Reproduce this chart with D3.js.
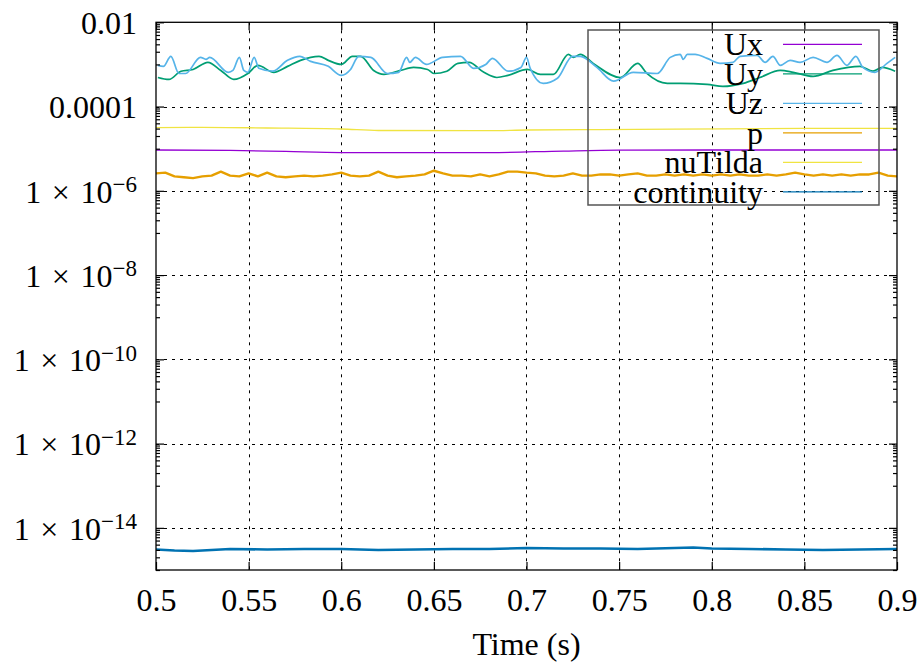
<!DOCTYPE html>
<html>
<head>
<meta charset="utf-8">
<script src="https://cdn.jsdelivr.net/npm/d3@7"></script>
<style>
  body { margin: 0; background: #fff; }
  text { font-family: "Liberation Serif", "Times New Roman", serif; }
</style>
</head>
<body>
<svg id="chart" width="920" height="663"></svg>
<script>
// residuals (time in s)
var uxTime = [0.5, 0.54, 0.57, 0.6, 0.65, 0.68, 0.72, 0.75, 0.8, 0.85, 0.9];
var uxVal  = [9.3e-6, 9.1e-6, 8.6e-6, 8.1e-6, 8.1e-6, 8.1e-6, 8.8e-6, 9.2e-6, 9.3e-6, 9.3e-6, 9.3e-6];

var uyTime = [0.501, 0.507, 0.5135, 0.520, 0.528, 0.535, 0.542, 0.5496, 0.555, 0.5636, 0.571, 0.578, 0.588, 0.593,
  0.600, 0.606, 0.6105, 0.6175, 0.623, 0.632, 0.639, 0.6466, 0.650, 0.657, 0.663, 0.669, 0.677, 0.684, 0.690,
  0.7005, 0.7075, 0.7145, 0.7226, 0.7253, 0.729, 0.736, 0.7506, 0.760, 0.765, 0.776, 0.783, 0.7975, 0.806,
  0.817, 0.826, 0.837, 0.844, 0.8547, 0.8654, 0.880, 0.887, 0.892, 0.899];
var uyVal = [4.9e-4, 4.4e-4, 6.9e-4, 7.6e-4, 1.12e-3, 7.2e-4, 4.4e-4, 6.1e-4, 9.5e-4, 6.5e-4, 9.0e-4, 1.25e-3, 1.56e-3, 1.25e-3,
  1.0e-3, 1.56e-3, 1.56e-3, 7.2e-4, 5.8e-4, 7.2e-4, 8.5e-4, 7.6e-4, 6.1e-4, 6.9e-4, 1.06e-3, 1.12e-3, 6.5e-4, 4.9e-4, 5.5e-4,
  7.6e-4, 5.8e-4, 5.8e-4, 1.74e-3, 1.47e-3, 1.74e-3, 1.06e-3, 4.9e-4, 1.06e-3, 6.1e-4, 3.55e-4, 3.55e-4, 3.36e-4, 3.0e-4,
  3.55e-4, 4.9e-4, 7.2e-4, 6.5e-4, 5.2e-4, 7.2e-4, 9.0e-4, 6.9e-4, 8.5e-4, 6.9e-4];

var uzTime = [0.501, 0.504, 0.508, 0.5124, 0.516, 0.524, 0.527, 0.529, 0.539, 0.5415, 0.545, 0.5474, 0.5496, 0.553,
  0.5555, 0.563, 0.571, 0.5776, 0.5835, 0.593, 0.600, 0.605, 0.6094, 0.616, 0.625, 0.631, 0.6353, 0.637, 0.640,
  0.646, 0.6547, 0.6644, 0.6714, 0.678, 0.6816, 0.690, 0.697, 0.700, 0.702, 0.709, 0.7167, 0.7248, 0.729, 0.738,
  0.747, 0.7576, 0.7706, 0.7776, 0.783, 0.7846, 0.7868, 0.791, 0.7975, 0.8045, 0.8115, 0.8153, 0.8245, 0.8288,
  0.833, 0.837, 0.8423, 0.8477, 0.8547, 0.8622, 0.8676, 0.873, 0.8778, 0.8816, 0.888, 0.8946, 0.899];
var uzVal = [9.5e-4, 9.0e-4, 1.56e-3, 6.1e-4, 6.1e-4, 1.47e-3, 1.32e-3, 1.47e-3, 6.5e-4, 7.2e-4, 1.47e-3, 7.2e-4, 6.5e-4, 1.47e-3,
  8.1e-4, 6.9e-4, 1.25e-3, 1.56e-3, 1.18e-3, 9.0e-4, 5.5e-4, 7.6e-4, 1.56e-3, 1.47e-3, 6.1e-4, 6.5e-4, 1.47e-3, 1.12e-3, 1.47e-3,
  1.0e-3, 1.47e-3, 1.56e-3, 8.1e-4, 1.0e-3, 1.39e-3, 6.9e-4, 8.5e-4, 1.47e-3, 8.1e-4, 3.55e-4, 4.7e-4, 1.56e-3, 1.56e-3, 8.5e-4,
  4.0e-4, 6.5e-4, 6.1e-4, 1.47e-3, 1.74e-3, 1.32e-3, 1.74e-3, 1.74e-3, 1.39e-3, 1.06e-3, 1.12e-3, 1.56e-3, 1.64e-3, 1.12e-3,
  1.56e-3, 9.5e-4, 1.25e-3, 1.12e-3, 1.47e-3, 1.12e-3, 1.64e-3, 9.5e-4, 1.56e-3, 8.5e-4, 6.5e-4, 1.06e-3, 1.47e-3];

var pTime = [0.500, 0.505, 0.510, 0.515, 0.520, 0.525, 0.530, 0.535, 0.540, 0.545, 0.550, 0.555, 0.560, 0.565, 0.570,
  0.575, 0.580, 0.585, 0.590, 0.595, 0.600, 0.605, 0.610, 0.615, 0.620, 0.625, 0.630, 0.635, 0.640, 0.645, 0.650,
  0.655, 0.660, 0.665, 0.670, 0.675, 0.680, 0.685, 0.690, 0.695, 0.700, 0.705, 0.710, 0.715, 0.720, 0.725, 0.730,
  0.735, 0.740, 0.745, 0.750, 0.755, 0.760, 0.765, 0.770, 0.775, 0.780, 0.785, 0.790, 0.795, 0.800, 0.805, 0.810,
  0.815, 0.820, 0.825, 0.830, 0.835, 0.840, 0.845, 0.850, 0.855, 0.860, 0.865, 0.870, 0.875, 0.880, 0.885, 0.890,
  0.895, 0.900];
var pVal = [2.6e-6, 2.7e-6, 2.2e-6, 2.1e-6, 2.0e-6, 2.2e-6, 2.3e-6, 2.85e-6, 2.3e-6, 2.2e-6, 2.6e-6, 2.2e-6, 2.7e-6, 2.2e-6, 2.1e-6,
  2.2e-6, 2.3e-6, 2.2e-6, 2.3e-6, 2.45e-6, 2.7e-6, 2.3e-6, 2.2e-6, 2.3e-6, 2.85e-6, 2.3e-6, 2.1e-6, 2.2e-6, 2.3e-6, 2.45e-6, 3.0e-6,
  2.6e-6, 2.3e-6, 2.3e-6, 2.2e-6, 2.45e-6, 2.2e-6, 2.45e-6, 2.85e-6, 2.85e-6, 2.7e-6, 2.6e-6, 2.3e-6, 2.2e-6, 2.3e-6, 2.6e-6, 2.3e-6,
  2.3e-6, 2.45e-6, 2.45e-6, 2.3e-6, 2.45e-6, 2.6e-6, 2.3e-6, 2.3e-6, 2.45e-6, 2.3e-6, 2.45e-6, 2.3e-6, 2.45e-6, 2.3e-6, 2.45e-6, 2.3e-6,
  2.45e-6, 2.3e-6, 2.3e-6, 2.45e-6, 2.3e-6, 2.45e-6, 2.7e-6, 2.45e-6, 2.3e-6, 2.45e-6, 2.3e-6, 2.45e-6, 2.3e-6, 2.45e-6, 2.45e-6, 2.7e-6,
  2.3e-6, 2.2e-6];

var nuTime = [0.5, 0.525, 0.56, 0.6, 0.62, 0.68, 0.7, 0.74, 0.78, 0.85, 0.9];
var nuVal  = [3.17e-5, 3.22e-5, 3.1e-5, 2.93e-5, 2.7e-5, 2.67e-5, 2.78e-5, 2.85e-5, 2.9e-5, 3.05e-5, 3.05e-5];

var contTime = [0.5, 0.51, 0.52, 0.53, 0.54, 0.56, 0.58, 0.6, 0.62, 0.64, 0.66, 0.68, 0.7, 0.72, 0.74, 0.76,
  0.78, 0.79, 0.8, 0.82, 0.84, 0.86, 0.88, 0.9];
var contVal = [3.07e-15, 2.9e-15, 2.83e-15, 2.98e-15, 3.15e-15, 3.07e-15, 3.15e-15, 3.15e-15, 2.98e-15, 3.07e-15, 3.15e-15, 3.15e-15,
  3.32e-15, 3.24e-15, 3.24e-15, 3.15e-15, 3.32e-15, 3.41e-15, 3.24e-15, 3.15e-15, 3.07e-15, 2.98e-15, 3.07e-15, 3.15e-15];

var seriesNames  = ["Ux", "Uy", "Uz", "p", "nuTilda", "continuity"];
var seriesColors = ["#9400d3", "#009e73", "#56b4e9", "#e69f00", "#f0e442", "#0072b2"];

var xTicks = [0.5, 0.55, 0.6, 0.65, 0.7, 0.75, 0.8, 0.85, 0.9];
var yTicks = [1e-2, 1e-4, 1e-6, 1e-8, 1e-10, 1e-12, 1e-14];
var yTickLabels = ["0.01", "0.0001", "1\u2004\u00d7\u200410^\u22126", "1\u2004\u00d7\u200410^\u22128",
  "1\u2004\u00d7\u200410^\u221210", "1\u2004\u00d7\u200410^\u221212", "1\u2004\u00d7\u200410^\u221214"];

// plot box (window.top is read-only, so no bare "top")
var pLeft = 156, pRight = 897, pTop = 22.3, pBottom = 570;
var fs = 32;
var svg = d3.select("#chart");

var x = d3.scaleLinear().domain([0.5, 0.9]).range([pLeft, pRight]);
var y = d3.scaleLog().domain([1e-15, 1e-2]).range([pBottom, pTop]);

// minor tics: 1..9 x 10^e for the odd decades
var yMinor = [];
[-3, -5, -7, -9, -11, -13, -15].forEach(function(e) {
  for (var m = 1; m <= 9; m++) yMinor.push(m * Math.pow(10, e));
});

// grid
var grid = svg.append("g").attr("stroke", "#000").attr("stroke-width", 1).attr("stroke-dasharray", "3,5");
grid.selectAll(".gx").data(xTicks.slice(1, -1)).enter().append("line")
  .attr("x1", function(d) { return Math.round(x(d)) + 0.5; })
  .attr("x2", function(d) { return Math.round(x(d)) + 0.5; })
  .attr("y1", pTop).attr("y2", pBottom);
grid.selectAll(".gy").data(yTicks.slice(1)).enter().append("line")
  .attr("y1", function(d) { return Math.round(y(d)) + 0.5; })
  .attr("y2", function(d) { return Math.round(y(d)) + 0.5; })
  .attr("x1", pLeft).attr("x2", pRight);

// series
svg.append("clipPath").attr("id", "clip").append("rect")
  .attr("x", pLeft).attr("y", pTop).attr("width", pRight - pLeft).attr("height", pBottom - pTop);

var series = [
  { pts: d3.zip(uxTime, uxVal), w: 1.3, curve: d3.curveMonotoneX },
  { pts: d3.zip(uyTime, uyVal), w: 1.7, curve: d3.curveMonotoneX },
  { pts: d3.zip(uzTime, uzVal), w: 1.7, curve: d3.curveMonotoneX },
  { pts: d3.zip(pTime, pVal), w: 2.4, curve: d3.curveLinear },
  { pts: d3.zip(nuTime, nuVal), w: 1.3, curve: d3.curveMonotoneX },
  { pts: d3.zip(contTime, contVal), w: 2.6, curve: d3.curveLinear }
];
var lines = svg.append("g").attr("clip-path", "url(#clip)");
series.forEach(function(s, i) {
  var line = d3.line().curve(s.curve)
    .x(function(d) { return x(d[0]); }).y(function(d) { return y(d[1]); });
  lines.append("path").attr("d", line(s.pts)).attr("fill", "none")
    .attr("stroke", seriesColors[i]).attr("stroke-width", s.w).attr("stroke-linejoin", "round");
});

// axes
function styleAxis(g) {
  g.select(".domain").remove();
  g.attr("font-size", fs).attr("font-family", "Liberation Serif, serif");
  g.selectAll("line").attr("stroke", "#000").attr("stroke-width", 1.2);
}
svg.append("g").attr("transform", "translate(0," + pBottom + ")")
  .call(d3.axisBottom(x).tickValues(xTicks).tickSizeInner(-8).tickSizeOuter(0).tickPadding(18)
    .tickFormat(function(d) { return String(+d.toFixed(2)); }))
  .call(styleAxis);
svg.append("g").attr("transform", "translate(0," + pTop + ")")
  .call(d3.axisTop(x).tickValues(xTicks).tickSizeInner(-8).tickSizeOuter(0).tickFormat(""))
  .call(styleAxis);

var gy = svg.append("g").attr("transform", "translate(" + pLeft + ",0)")
  .call(d3.axisLeft(y).tickValues(yTicks).tickSizeInner(-8).tickSizeOuter(0).tickPadding(19))
  .call(styleAxis);
gy.selectAll(".tick text").attr("dy", "0.35em").each(function(d, i) {
  var parts = yTickLabels[i].split("^");
  var t = d3.select(this).text("");
  t.append("tspan").text(parts[0]);
  if (parts[1]) t.append("tspan").attr("dy", -10.5).attr("font-size", 23).text(parts[1]);
});
svg.append("g").attr("transform", "translate(" + pLeft + ",0)")
  .call(d3.axisLeft(y).tickValues(yMinor).tickSizeInner(-4).tickSizeOuter(0).tickFormat(""))
  .call(styleAxis);
svg.append("g").attr("transform", "translate(" + pRight + ",0)")
  .call(d3.axisRight(y).tickValues(yTicks).tickSizeInner(-8).tickSizeOuter(0).tickFormat(""))
  .call(styleAxis);
svg.append("g").attr("transform", "translate(" + pRight + ",0)")
  .call(d3.axisRight(y).tickValues(yMinor).tickSizeInner(-4).tickSizeOuter(0).tickFormat(""))
  .call(styleAxis);

// frame
svg.append("rect").attr("x", pLeft).attr("y", pTop).attr("width", pRight - pLeft).attr("height", pBottom - pTop)
  .attr("fill", "none").attr("stroke", "#000").attr("stroke-width", 1.3);

svg.append("text").attr("x", (pLeft + pRight) / 2).attr("y", 655).attr("text-anchor", "middle")
  .attr("font-size", fs).text("Time (s)");

// legend
var legend = svg.append("g");
legend.append("rect").attr("x", 588).attr("y", 30).attr("width", 291).attr("height", 175)
  .attr("fill", "none").attr("stroke", "#555").attr("stroke-width", 1.5);
seriesNames.forEach(function(name, i) {
  var ly = 44.3 + i * 29.5;
  legend.append("text").attr("x", 763).attr("y", ly + 11).attr("text-anchor", "end")
    .attr("font-size", fs).text(name);
  legend.append("line").attr("x1", 783).attr("x2", 862).attr("y1", ly).attr("y2", ly)
    .attr("stroke", seriesColors[i]).attr("stroke-width", 1.3);
});
</script>
</body>
</html>
